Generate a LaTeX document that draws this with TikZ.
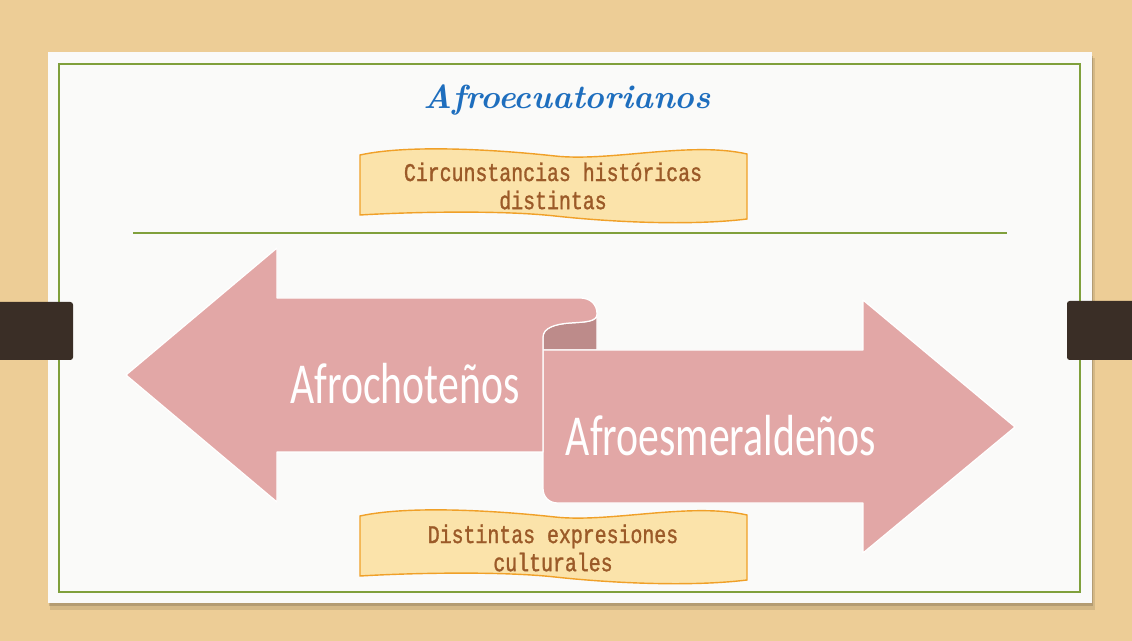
\documentclass[tikz,border=0pt]{standalone}
\usepackage{fontspec}
\newfontfamily\bannerfont{Liberation Mono}[FakeStretch=0.78, FakeBold=1.2]
\newfontfamily\arrowfont{Carlito}[FakeStretch=0.72]

\definecolor{wood}{RGB}{237,205,150}
\definecolor{paper}{RGB}{250,250,249}
\definecolor{framegreen}{RGB}{128,160,60}
\definecolor{tabbrown}{RGB}{58,46,38}
\definecolor{rosefront}{RGB}{226,167,166}
\definecolor{roseback}{RGB}{189,139,138}
\definecolor{bannerfill}{RGB}{251,227,170}
\definecolor{bannerline}{RGB}{240,160,40}
\definecolor{bannertext}{RGB}{155,90,40}
\definecolor{titleblue}{RGB}{30,110,190}

\begin{document}
\begin{tikzpicture}[
x=0.02cm, y=-0.02cm,
title/.style={text=titleblue, font=\fontsize{19}{24}\selectfont\bfseries\itshape},
banner/.style={fill=bannerfill, draw=bannerline, line width=0.8pt},
bannerlabel/.style={text=bannertext, align=center, font=\bannerfont\fontsize{14.5}{16}\selectfont},
ribbon/.style={fill=rosefront, draw=white, line width=0.7pt, line join=round},
ribbonback/.style={fill=roseback, draw=white, line width=0.7pt},
arrowlabel/.style={text=white, font=\arrowfont\fontsize{33}{36}\selectfont},
tab/.style={fill=tabbrown, rounded corners=1.5pt}
]
\useasboundingbox (0,0) rectangle (1132,641);

% Background
\fill[wood] (0,0) rectangle (1132,641);
\fill[black, opacity=0.10] (50,58) rectangle (1095,610);
\fill[black, opacity=0.15] (49,56) rectangle (1093,606);
\fill[paper] (48,52) rectangle (1092,603);
\draw[framegreen, line width=1.6pt] (59,64) rectangle (1080,592);
\draw[framegreen, line width=1.2pt] (133,233) -- (1007,233);
\fill[tab] (-5,302) rectangle (73,360);
\fill[tab] (1067,301) rectangle (1137,360);

% Banners
\foreach \dy in {0,361}
  \draw[banner, shift={(0,\dy)}] (360,155) .. controls (410,144) and (500,150) .. (555,156)
    .. controls (610,162) and (690,141) .. (747,154) -- (747,219)
    .. controls (690,226) and (610,222) .. (555,216)
    .. controls (500,210) and (410,212) .. (360,215) -- cycle;

% Ribbon arrows
\draw[ribbonback] (543,337) .. controls (543,328) and (555,324) .. (570,323)
  .. controls (585,322) and (597,322) .. (597,314) -- (597,350) -- (543,350) -- cycle;
\draw[ribbon] (543,350) -- (863,350) -- (863,300) -- (1015,427) -- (863,553)
  -- (863,503) -- (558,503) .. controls (549,503) and (543,497) .. (543,488) -- cycle;
\draw[ribbon] (126,375) -- (277,248) -- (277,298) -- (580,298)
  .. controls (590,298) and (597,304) .. (597,314)
  .. controls (597,322) and (585,322) .. (570,323)
  .. controls (555,324) and (543,328) .. (543,337) -- (543,452)
  -- (277,452) -- (277,502) -- cycle;

% Nodes
\node[title] (heading) at (567,100) {Afroecuatorianos};
\node[bannerlabel] (history) at (553,186) {Circunstancias históricas\\distintas};
\node[bannerlabel] (culture) at (553,548) {Distintas expresiones\\culturales};
\node[arrowlabel] (choteno) at (405,384) {Afrochoteños};
\node[arrowlabel] (esmeraldeno) at (721,436) {Afroesmeraldeños};

\end{tikzpicture}
\end{document}
